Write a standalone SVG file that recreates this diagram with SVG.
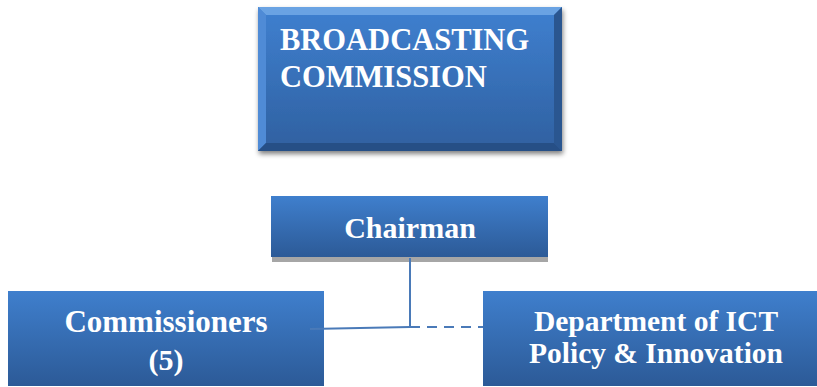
<svg xmlns="http://www.w3.org/2000/svg" width="817" height="387" viewBox="0 0 817 387">
<defs>
<linearGradient id="g" x1="0" y1="0" x2="0" y2="1">
<stop offset="0" stop-color="#3f7fcd"/>
<stop offset="1" stop-color="#2c5a97"/>
</linearGradient>
<linearGradient id="gt" x1="0" y1="0" x2="0" y2="1">
<stop offset="0" stop-color="#3f80d0"/>
<stop offset="1" stop-color="#2f60a0"/>
</linearGradient>
<filter id="sh" x="-10%" y="-10%" width="125%" height="130%">
<feGaussianBlur in="SourceAlpha" stdDeviation="2.5"/>
<feOffset dx="1" dy="3"/>
<feComponentTransfer><feFuncA type="linear" slope="0.5"/></feComponentTransfer>
<feMerge><feMergeNode/><feMergeNode in="SourceGraphic"/></feMerge>
</filter>
</defs>
<style>
.t{font-family:"Liberation Serif","DejaVu Serif",serif;font-weight:bold;fill:#ffffff}
.c{stroke:#4a7ab8;stroke-width:2;fill:none}
</style>
<rect width="817" height="387" fill="#ffffff"/>
<g id="broadcasting">
<g filter="url(#sh)">
<rect x="258" y="7" width="304" height="144" fill="url(#gt)"/>
<polygon points="258,7 562,7 554,15 266,15" fill="#6aa3e3"/>
<polygon points="258,7 266,15 266,143 258,151" fill="#4f8bd6"/>
<polygon points="562,7 562,151 554,143 554,15" fill="#2a5690"/>
<polygon points="258,151 266,143 554,143 562,151" fill="#264f86"/>
</g>
<text class="t" x="280" y="50" font-size="30.5">BROADCASTING</text>
<text class="t" x="280" y="87" font-size="30.5">COMMISSION</text>
</g>
<g id="chairman">
<rect x="272" y="257" width="276" height="5" fill="#a6a6a6"/>
<rect x="271" y="196" width="277" height="61" fill="url(#g)"/>
<text class="t" x="410" y="238" font-size="30" text-anchor="middle">Chairman</text>
</g>
<g id="commissioners">
<rect x="8" y="291" width="316" height="95" fill="url(#g)"/>
<text class="t" x="166" y="332" font-size="31" text-anchor="middle">Commissioners</text>
<text class="t" x="166" y="370" font-size="30" text-anchor="middle">(5)</text>
</g>
<g id="department">
<rect x="483" y="291" width="334" height="95" fill="url(#g)"/>
<text class="t" x="656" y="331" font-size="29.5" text-anchor="middle">Department of ICT</text>
<text class="t" x="656" y="363" font-size="29.5" text-anchor="middle">Policy &amp; Innovation</text>
</g>
<g id="connectors">
<line class="c" x1="310" y1="329" x2="410" y2="327"/>
<line class="c" x1="410" y1="258" x2="410" y2="328"/>
<line class="c" x1="410" y1="327" x2="483" y2="327" stroke-dasharray="10,7"/>
</g>
</svg>
